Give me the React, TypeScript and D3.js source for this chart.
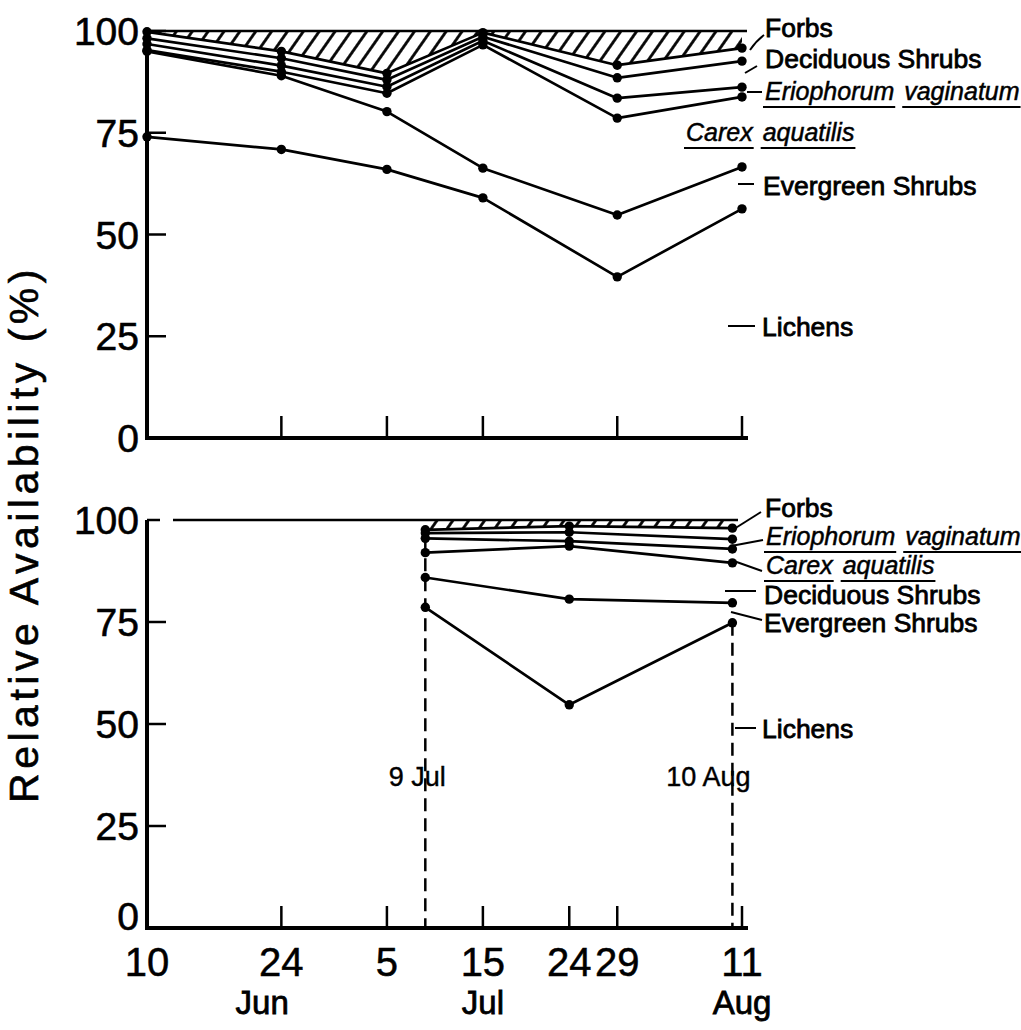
import React from "react";
import * as d3 from "d3";

const parseDay = d3.timeParse("%m-%d");

// Upper panel: sampling dates and cumulative upper edge (%) of each forage band
const upperDates = ["06-10", "06-24", "07-05", "07-15", "07-29", "08-11"];
const upperForbsTop = [99.8, 95.0, 89.6, 99.6, 91.6, 95.8];
const upperDeciduousTop = [98.2, 93.3, 88.0, 98.6, 88.5, 92.6];
const upperEriophorumTop = [96.8, 91.5, 86.3, 97.6, 83.5, 86.2];
const upperCarexTop = [95.3, 90.0, 84.7, 96.6, 78.6, 83.8];
const upperEvergreenTop = [95.0, 89.0, 80.2, 66.3, 54.8, 66.6];
const upperLichensTop = [74.0, 70.9, 66.0, 59.0, 39.6, 56.3];

// Lower panel: sampling dates and cumulative upper edge (%) of each forage band
const lowerDates = ["07-09", "07-24", "08-10"];
const lowerForbsTop = [97.6, 98.5, 98.0];
const lowerEriophorumTop = [96.8, 97.0, 95.3];
const lowerCarexTop = [95.5, 94.8, 92.9];
const lowerDeciduousTop = [92.0, 93.6, 89.5];
const lowerEvergreenTop = [85.9, 80.6, 79.7];
const lowerLichensTop = [78.6, 54.7, 74.8];

// Axes
const axisStart = "06-10";
const axisEnd = "08-11";
const yTicks = [0, 25, 50, 75, 100];
const upperTickDates = ["06-24", "07-05", "07-15", "07-29", "08-11"];
const lowerTickDates = ["06-24", "07-05", "07-15", "07-24", "07-29", "08-11"];
const dayTickDates = ["06-10", "06-24", "07-05", "07-15", "07-24", "07-29", "08-11"];
const dayTickLabels = ["10", "24", "5", "15", "24", "29", "11"];
const monthDates = ["06-22", "07-15", "08-11"];
const monthLabels = ["Jun", "Jul", "Aug"];
const markerDates = ["07-09", "08-10"];
const markerLabels = ["9 Jul", "10 Aug"];

const FONT = "'Liberation Sans', Arial, sans-serif";

let measureCtx: CanvasRenderingContext2D | null = null;
function textWidth(text: string, font: string): number {
  if (!measureCtx) measureCtx = document.createElement("canvas").getContext("2d");
  if (!measureCtx) return text.length * 12;
  measureCtx.font = font;
  return measureCtx.measureText(text).width;
}

// Italic species name with each word underlined separately
function SpeciesLabel({ x, y, words }: { x: number; y: number; words: string[] }) {
  const size = 25;
  const font = `italic ${size}px ${FONT}`;
  const gap = 10;
  let cx = x;
  const parts = words.map((w, i) => {
    const wWidth = textWidth(w, font);
    const el = (
      <g key={i}>
        <text x={cx} y={y} fontFamily={FONT} fontStyle="italic" fontSize={size} fill="#000" stroke="#000" strokeWidth={0.5}>
          {w}
        </text>
        <line x1={cx - 2} x2={cx + wWidth + 1} y1={y + 7} y2={y + 7} stroke="#000" strokeWidth={2.2} />
      </g>
    );
    cx += wWidth + gap;
    return el;
  });
  return <g>{parts}</g>;
}

function Label({ x, y, text }: { x: number; y: number; text: string }) {
  return (
    <text x={x} y={y} fontFamily={FONT} fontSize={26.5} fill="#000" stroke="#000" strokeWidth={0.8}>
      {text}
    </text>
  );
}

export default function App() {
  const x = d3
    .scaleTime()
    .domain([parseDay(axisStart) as Date, parseDay(axisEnd) as Date])
    .range([147, 742]);
  const yTop = d3.scaleLinear().domain([0, 100]).range([438, 31]);
  const yBot = d3.scaleLinear().domain([0, 100]).range([928, 520]);

  const upperSeries = [
    upperForbsTop,
    upperDeciduousTop,
    upperEriophorumTop,
    upperCarexTop,
    upperEvergreenTop,
    upperLichensTop,
  ];
  const lowerSeries = [
    lowerForbsTop,
    lowerEriophorumTop,
    lowerCarexTop,
    lowerDeciduousTop,
    lowerEvergreenTop,
    lowerLichensTop,
  ];

  const x0 = x(parseDay(axisStart) as Date);
  const x1 = x(parseDay(axisEnd) as Date);

  const panel = (
    key: string,
    dates: string[],
    series: number[][],
    y: d3.ScaleLinear<number, number>,
    tickDates: string[],
    refLineStart: number,
    refLineEnd: number
  ) => {
    const ds = dates.map((d) => parseDay(d) as Date);
    const line = d3
      .line<number>()
      .x((_, i) => x(ds[i]))
      .y((v) => y(v));
    const hatch = d3
      .area<number>()
      .x((_, i) => x(ds[i]))
      .y0(() => y(100))
      .y1((v) => y(v));
    return (
      <g key={key}>
        <path d={hatch(series[0]) || ""} fill="url(#hatch)" stroke="none" />
        <line x1={refLineStart} x2={refLineEnd} y1={y(100)} y2={y(100)} stroke="#000" strokeWidth={2.6} />
        {series.map((s, i) => (
          <path key={i} d={line(s) || ""} fill="none" stroke="#000" strokeWidth={2.7} strokeLinejoin="round" />
        ))}
        {series.map((s, i) =>
          s.map((v, j) => <circle key={`${i}-${j}`} cx={x(ds[j])} cy={y(v)} r={4.7} fill="#000" />)
        )}
        {/* axes */}
        <line x1={x0} x2={x0} y1={y(100)} y2={y(0)} stroke="#000" strokeWidth={4} />
        <line x1={x0} x2={x1 + 4} y1={y(0)} y2={y(0)} stroke="#000" strokeWidth={4} strokeLinecap="square" />
        {yTicks.map((t) => (
          <g key={t}>
            <line x1={x0} x2={x0 + (t === 100 && key === "lower" ? 13 : 19)} y1={y(t)} y2={y(t)} stroke="#000" strokeWidth={2.5} />
            <text
              x={139}
              y={y(t) + (t === 0 && key === "lower" ? 2 : 14)}
              textAnchor="end"
              fontFamily={FONT}
              fontSize={39}
              fill="#000"
              stroke="#000"
              strokeWidth={0.6}
            >
              {t}
            </text>
          </g>
        ))}
        {tickDates.map((d) => {
          const px = x(parseDay(d) as Date);
          return <line key={d} x1={px} x2={px} y1={y(0)} y2={y(0) - 22} stroke="#000" strokeWidth={2.5} />;
        })}
      </g>
    );
  };

  return (
    <svg
      width={1021}
      height={1030}
      viewBox="0 0 1021 1030"
      style={{ position: "absolute", left: 0, top: 0, background: "#fff" }}
    >
      <defs>
        <pattern id="hatch" width={13} height={13} patternUnits="userSpaceOnUse" patternTransform="rotate(35)">
          <line x1={6.5} x2={6.5} y1={0} y2={13} stroke="#000" strokeWidth={2.8} />
        </pattern>
      </defs>
      <rect width={1021} height={1030} fill="#fff" />

      {panel("upper", upperDates, upperSeries, yTop, upperTickDates, x0, x1 + 5)}
      {panel("lower", lowerDates, lowerSeries, yBot, lowerTickDates, x0 + 26, x1 - 4)}

      {/* dashed markers for the lower sampling window */}
      {markerDates.map((d, i) => {
        const px = x(parseDay(d) as Date);
        const yStart = i === 0 ? yBot(lowerCarexTop[0]) : yBot(lowerLichensTop[2]);
        return (
          <g key={d}>
            <line x1={px} x2={px} y1={yStart} y2={yBot(0)} stroke="#000" strokeWidth={2.5} strokeDasharray="13 7" />
            <text
              x={i === 0 ? px - 8 : px - 24}
              y={786}
              textAnchor="middle"
              fontFamily={FONT}
              fontSize={27}
              fill="#000"
              stroke="#000"
              strokeWidth={0.4}
            >
              {markerLabels[i]}
            </text>
          </g>
        );
      })}

      {/* date axis labels */}
      {dayTickDates.map((d, i) => (
        <text
          key={`d${i}`}
          x={x(parseDay(d) as Date)}
          y={976}
          textAnchor="middle"
          fontFamily={FONT}
          fontSize={40}
          fill="#000"
          stroke="#000"
          strokeWidth={0.5}
        >
          {dayTickLabels[i]}
        </text>
      ))}
      {monthDates.map((d, i) => (
        <text
          key={`m${i}`}
          x={x(parseDay(d) as Date)}
          y={1014}
          textAnchor="middle"
          fontFamily={FONT}
          fontSize={33}
          fill="#000"
          stroke="#000"
          strokeWidth={0.8}
        >
          {monthLabels[i]}
        </text>
      ))}

      {/* y axis title */}
      <text
        transform="translate(38,534) rotate(-90)"
        textAnchor="middle"
        fontFamily={FONT}
        fontSize={41}
        letterSpacing={4.5}
        fill="#000"
        stroke="#000"
        strokeWidth={0.6}
      >
        Relative Availability (%)
      </text>

      {/* upper panel labels */}
      <path d="M764,35 Q756,41 750,50" fill="none" stroke="#000" strokeWidth={2} />
      <Label x={765} y={37} text="Forbs" />
      <line x1={757} y1={66} x2={745} y2={73} stroke="#000" strokeWidth={2} />
      <Label x={765} y={68} text="Deciduous Shrubs" />
      <line x1={747} y1={92} x2={762} y2={92} stroke="#000" strokeWidth={2} />
      <SpeciesLabel x={765} y={100} words={["Eriophorum", "vaginatum"]} />
      <SpeciesLabel x={686} y={141} words={["Carex", "aquatilis"]} />
      <line x1={738} y1={184} x2={754} y2={184} stroke="#000" strokeWidth={2} />
      <Label x={763} y={195} text="Evergreen Shrubs" />
      <line x1={728} y1={326} x2={755} y2={326} stroke="#000" strokeWidth={2} />
      <Label x={762} y={336} text="Lichens" />

      {/* lower panel labels */}
      <line x1={761} y1={512} x2={734} y2={529} stroke="#000" strokeWidth={2} />
      <Label x={765} y={517} text="Forbs" />
      <line x1={763} y1={540} x2={731} y2={546} stroke="#000" strokeWidth={2} />
      <SpeciesLabel x={766} y={545} words={["Eriophorum", "vaginatum"]} />
      <line x1={762} y1={571} x2={731} y2={560} stroke="#000" strokeWidth={2} />
      <SpeciesLabel x={766} y={574} words={["Carex", "aquatilis"]} />
      <line x1={725} y1={591} x2={756} y2={591} stroke="#000" strokeWidth={2} />
      <Label x={764} y={604} text="Deciduous Shrubs" />
      <line x1={762} y1={620} x2={731} y2={612} stroke="#000" strokeWidth={2} />
      <Label x={764} y={632} text="Evergreen Shrubs" />
      <line x1={735} y1={728} x2={756} y2={728} stroke="#000" strokeWidth={2} />
      <Label x={762} y={738} text="Lichens" />
    </svg>
  );
}
